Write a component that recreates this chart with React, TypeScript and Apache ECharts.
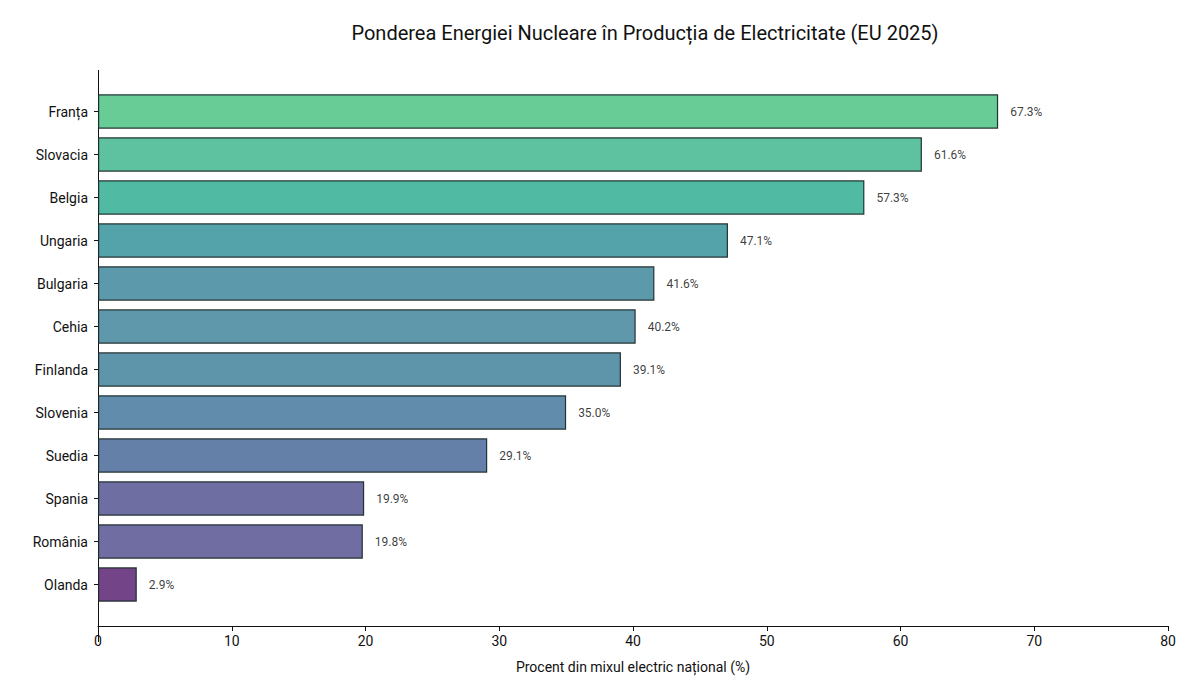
import React, { useEffect, useRef } from "react";
import * as echarts from "echarts";

const countries = ["Franța","Slovacia","Belgia","Ungaria","Bulgaria","Cehia","Finlanda","Slovenia","Suedia","Spania","România","Olanda"];
const shares = [67.3,61.6,57.3,47.1,41.6,40.2,39.1,35.0,29.1,19.9,19.8,2.9];
const colors = ["#5fc98f","#55be9a","#47b69e","#4c9ea5","#5394a6","#5692a6","#568fa6","#5a86a6","#5c78a3","#67669d","#67659d","#6c3a82"];
const xTicks = [0,10,20,30,40,50,60,70,80];

export default function App() {
  const ref = useRef<HTMLDivElement>(null);
  useEffect(() => {
    const chart = echarts.init(ref.current!, null, { renderer: "svg" });
    const font = "Roboto, 'Noto Sans', sans-serif";
    chart.setOption({
      animation: false,
      textStyle: { fontFamily: font },
      title: { text: "Ponderea Energiei Nucleare în Producția de Electricitate (EU 2025)", left: 632, top: 10, textAlign: "center",
        textStyle: { fontSize: 20, fontWeight: "normal", color: "#111", fontFamily: font } },
      grid: { left: 90, right: 24, top: 82, bottom: 86 },
      xAxis: { type: "value", min: 0, max: 80, interval: 10, offset: 20,
        name: "Procent din mixul electric național (%)", nameLocation: "middle", nameGap: 34,
        nameTextStyle: { fontSize: 14, color: "#111" },
        axisLine: { show: true, lineStyle: { color: "#111" } }, axisTick: { show: true, lineStyle: { color: "#111" } },
        axisLabel: { fontSize: 14, color: "#111", formatter: (v: number) => xTicks.includes(v) ? String(v) : "" },
        splitLine: { show: false } },
      yAxis: { type: "category", inverse: true, data: countries,
        axisLine: { show: false }, axisTick: { show: true, length: 4, lineStyle: { color: "#111" }, alignWithLabel: true },
        axisLabel: { fontSize: 14, color: "#111", margin: 10 } },
      graphic: [{ type: "line", shape: { x1: 90.5, y1: 62, x2: 90.5, y2: 634 }, style: { stroke: "#111", lineWidth: 1 } }],
      series: [{ type: "bar", barWidth: "80%",
        data: shares.map((v, i) => ({ value: v, itemStyle: { color: colors[i], opacity: 0.95, borderColor: "#1b2b2b", borderWidth: 1.2 } })),
        label: { show: true, position: "right", distance: 12, fontSize: 12, color: "#333", formatter: (p: any) => p.value.toFixed(1) + "%" } }],
    });
    return () => chart.dispose();
  }, []);
  return <div ref={ref} style={{ width: 1184, height: 684 }} />;
}
